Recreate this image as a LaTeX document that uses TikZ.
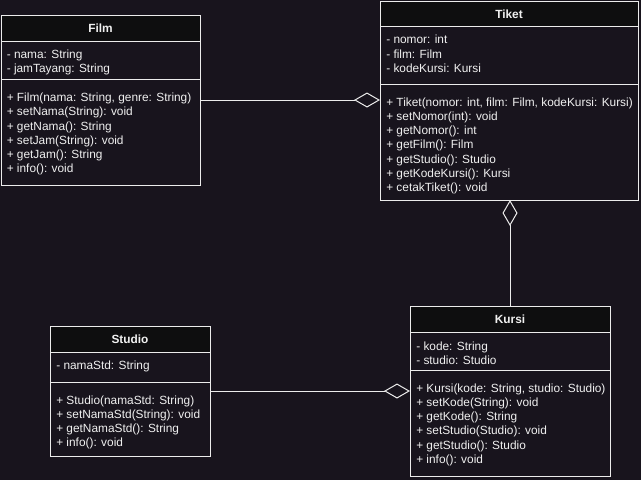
\documentclass[tikz,border=0pt]{standalone}
\usepackage{fontspec}
\setmainfont{Liberation Sans}
\usetikzlibrary{arrows.meta}
\definecolor{bgc}{RGB}{24,20,29}
\definecolor{headc}{RGB}{14,14,15}
\definecolor{linec}{RGB}{236,236,236}
\definecolor{txtc}{RGB}{240,240,240}
\begin{document}
\begin{tikzpicture}[x=0.75pt,y=-0.75pt,
  box/.style={draw=linec, line width=0.75pt, fill=bgc, anchor=north west, inner sep=0pt, outer sep=0pt},
  hdr/.style={fill=headc, draw=linec, line width=0.75pt},
  sep/.style={draw=linec, line width=0.75pt},
  title/.style={text=txtc, font=\fontsize{8.9}{10.8}\selectfont\bfseries, anchor=base, inner sep=0pt},
  row/.style={text=txtc, font=\fontsize{8.9}{10.8}\selectfont, anchor=base west, inner sep=0pt},
  agg/.style={draw=linec, line width=0.75pt, -{Diamond[open, length=19.5pt, width=11.25pt]}}
]
\fill[bgc] (0,0) rectangle (641,480);
\useasboundingbox (0,0) rectangle (641,480);

% Film
\node[box, minimum width=149.25pt, minimum height=127.5pt] (film) at (1,15) {};
\filldraw[hdr] (film.north west) rectangle ++(199,26);
\draw[sep] (film.north west) ++(0,64) -- ++(199,0);
\node[title] (film-t) at (100.5,32.6) {Film};
\foreach \t [count=\i] in {{- nama: String},{- jamTayang: String}}
  \node[row] (film-a\i) at (6.5,58.5+14.4*\i-14.4) {\t};
\foreach \t [count=\i] in {{+ Film(nama: String, genre: String)},{+ setNama(String): void},{+ getNama(): String},{+ setJam(String): void},{+ getJam(): String},{+ info(): void}}
  \node[row] (film-m\i) at (6.5,101.6+14.2*\i-14.2) {\t};

% Tiket
\node[box, minimum width=193.5pt, minimum height=149.25pt] (tiket) at (380,1) {};
\filldraw[hdr] (tiket.north west) rectangle ++(258,25);
\draw[sep] (tiket.north west) ++(0,83) -- ++(258,0);
\node[title] (tiket-t) at (509,18.3) {Tiket};
\foreach \t [count=\i] in {{- nomor: int},{- film: Film},{- kodeKursi: Kursi}}
  \node[row] (tiket-a\i) at (386,43.6+14.6*\i-14.6) {\t};
\foreach \t [count=\i] in {{+ Tiket(nomor: int, film: Film, kodeKursi: Kursi)},{+ setNomor(int): void},{+ getNomor(): int},{+ getFilm(): Film},{+ getStudio(): Studio},{+ getKodeKursi(): Kursi},{+ cetakTiket(): void}}
  \node[row] (tiket-m\i) at (386,106+14.3*\i-14.3) {\t};

% Studio
\node[box, minimum width=120pt, minimum height=97.5pt] (studio) at (50,326) {};
\filldraw[hdr] (studio.north west) rectangle ++(160,26);
\draw[sep] (studio.north west) ++(0,56) -- ++(160,0);
\node[title] (studio-t) at (130,343.6) {Studio};
\node[row] (studio-a1) at (56,369.3) {- namaStd: String};
\foreach \t [count=\i] in {{+ Studio(namaStd: String)},{+ setNamaStd(String): void},{+ getNamaStd(): String},{+ info(): void}}
  \node[row] (studio-m\i) at (56,404.3+14.2*\i-14.2) {\t};

% Kursi
\node[box, minimum width=150pt, minimum height=127.5pt] (kursi) at (410,306) {};
\filldraw[hdr] (kursi.north west) rectangle ++(200,26);
\draw[sep] (kursi.north west) ++(0,64) -- ++(200,0);
\node[title] (kursi-t) at (510,323.6) {Kursi};
\foreach \t [count=\i] in {{- kode: String},{- studio: Studio}}
  \node[row] (kursi-a\i) at (416,350+14.3*\i-14.3) {\t};
\foreach \t [count=\i] in {{+ Kursi(kode: String, studio: Studio)},{+ setKode(String): void},{+ getKode(): String},{+ setStudio(Studio): void},{+ getStudio(): Studio},{+ info(): void}}
  \node[row] (kursi-m\i) at (416,392+14.3*\i-14.3) {\t};

% Connectors (aggregation)
\draw[agg] (film.east) -- (film.east -| tiket.west);
\draw[agg] (kursi.north) -- (kursi.north |- tiket.south);
\draw[agg] (studio.east) -- (studio.east -| kursi.west);
\end{tikzpicture}
\end{document}
